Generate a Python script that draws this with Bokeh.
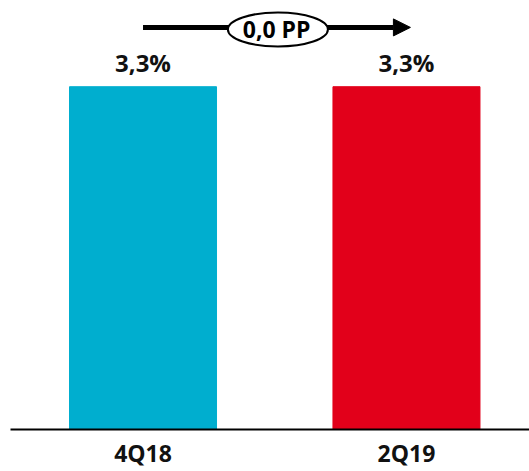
from bokeh.plotting import figure
from bokeh.models import Range1d, FixedTicker, Arrow, NormalHead, ColumnDataSource
from bokeh.core.properties import value
from bokeh.embed import file_html
from bokeh.resources import INLINE

# Data
categories = ["4Q18", "2Q19"]
rates = [3.3, 3.3]
rate_labels = ["3,3%", "3,3%"]
bar_colors = ["#00AECF", "#E2001A"]
change_pp = 0.0
change_label = "0,0 PP"

FONT = "Open Sans"

xs = list(range(len(categories)))
src = ColumnDataSource(dict(x=xs, top=rates, label=rate_labels, color=bar_colors))

p = figure(width=529, height=471, output_backend="svg", toolbar_location=None,
           x_range=Range1d(-0.503, 1.467), y_range=Range1d(0, 4.13),
           y_axis_location=None, min_border_left=10, min_border_right=0,
           min_border_top=0, min_border_bottom=42)
p.outline_line_color = None
p.xgrid.visible = False
p.ygrid.visible = False
p.background_fill_color = "white"
p.border_fill_color = "white"

# Bars
p.vbar(x="x", top="top", width=0.558, bottom=0, color="color", source=src)

# Value labels above bars
p.text(x="x", y="top", text="label", source=src, text_align="center",
       text_baseline="bottom", y_offset=-8, text_font=value(FONT),
       text_font_style="bold", text_font_size="24px", text_color="#111111")

# Change indicator: arrow with a labelled ellipse
y_ind = max(rates) * 1.167
arrow = Arrow(x_start=0.0, y_start=y_ind + 0.02, x_end=1.015, y_end=y_ind + 0.02,
              line_width=5, line_color="black",
              end=NormalHead(size=17, fill_color="black", line_color="black"))
arrow.level = "underlay"
p.add_layout(arrow)

mid = (xs[0] + xs[-1]) / 2 + 0.012
p.ellipse(x=[mid], y=[y_ind], width=[100], height=[34],
          width_units="screen", height_units="screen",
          fill_color="white", line_color="black", line_width=2)
p.text(x=[mid - 0.005], y=[y_ind], text=[change_label], text_align="center",
       text_baseline="middle", text_font=value(FONT), text_font_style="bold",
       text_font_size="23px", text_color="black")

# Category axis
ax = p.xaxis[0]
ax.ticker = FixedTicker(ticks=xs)
ax.major_label_overrides = {i: c for i, c in zip(xs, categories)}
ax.axis_line_width = 2
ax.axis_line_color = "black"
ax.major_tick_line_color = None
ax.minor_tick_line_color = None
ax.major_tick_in = 0
ax.major_tick_out = 0
ax.major_label_standoff = 7
ax.major_label_text_font = FONT
ax.major_label_text_font_style = "bold"
ax.major_label_text_font_size = "23px"
ax.major_label_text_color = "#111111"

open("out.html", "w").write(file_html(p, INLINE))
